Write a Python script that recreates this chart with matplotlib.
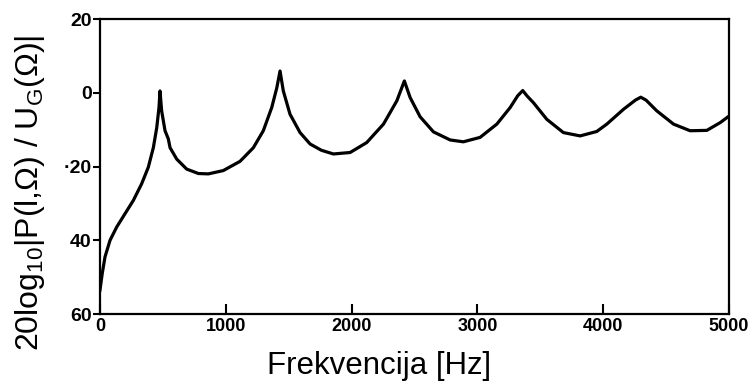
import matplotlib.pyplot as plt

# frequency [Hz] and level [dB]
freq = [0, 18, 40, 80, 133, 199, 265, 331, 384, 424, 451, 469, 477, 490, 517,
        543, 557, 610, 689, 782, 861, 980, 1113, 1219, 1298, 1365, 1405, 1431,
        1457, 1510, 1590, 1670, 1760, 1855, 1988, 2120, 2253, 2359, 2419, 2465,
        2544, 2650, 2783, 2888, 3021, 3154, 3260, 3320, 3360, 3395, 3445, 3551,
        3683, 3816, 3948, 4028, 4160, 4255, 4298, 4340, 4425, 4558, 4690, 4823,
        4929, 5000]
level = [-53.5, -49.0, -44.5, -40.0, -36.4, -32.8, -29.2, -24.7, -20.2, -14.9,
         -9.5, -4.0, 0.5, -4.9, -10.3, -12.5, -14.9, -18.0, -20.7, -21.9, -22.0,
         -21.1, -18.6, -14.9, -10.3, -4.0, 1.3, 5.9, 0.5, -5.8, -10.8, -13.9,
         -15.6, -16.6, -16.2, -13.5, -8.5, -2.2, 3.2, -1.3, -6.5, -10.6, -12.8,
         -13.3, -12.1, -8.5, -4.0, -0.8, 0.6, -0.9, -2.7, -7.2, -10.8, -11.7,
         -10.5, -8.5, -4.5, -2.0, -1.2, -2.0, -4.9, -8.5, -10.3, -10.2, -8.1, -6.3]

xticks = [0, 1000, 2000, 3000, 4000, 5000]
yticks = [20, 0, -20, -40, -60]
ylabels = ['20', '0', '·20', '40', '60']

fig = plt.figure(figsize=(7.54, 3.85), dpi=100)
ax = fig.add_axes([0.1326, 0.1844, 0.8344, 0.7662])

ax.plot(freq, level, color='black', lw=2.3, solid_joinstyle='round')

ax.set_xlim(0, 5000)
ax.set_ylim(-60, 20)
ax.set_xticks(xticks)
ax.set_xticklabels([str(t) for t in xticks], fontsize=13, fontweight='bold',
                   family='Liberation Sans')
ax.set_yticks(yticks)
ax.set_yticklabels(ylabels, fontsize=14, fontweight='bold', family='Liberation Sans')
ax.tick_params(axis='x', direction='in', length=7, width=1.5, pad=3)
ax.tick_params(axis='y', direction='out', length=5, width=1.5, pad=1)
for s in ax.spines.values():
    s.set_linewidth(1.6)

plt.rcParams['mathtext.fontset'] = 'custom'
plt.rcParams['mathtext.rm'] = 'Liberation Sans'
plt.rcParams['mathtext.it'] = 'Liberation Sans'

fig.text(379 / 754, 0.05, 'Frekvencija [Hz]', fontsize=22.5,
         family='Liberation Sans', ha='center', va='center')
fig.text(30 / 754, 0.5, r'20log$_{\mathregular{10}}$|P(l,Ω) / U$_{\mathregular{G}}$(Ω)|',
         fontsize=23, family='Liberation Sans', rotation=90, ha='center', va='center')

fig.savefig('out.png', dpi=100)
